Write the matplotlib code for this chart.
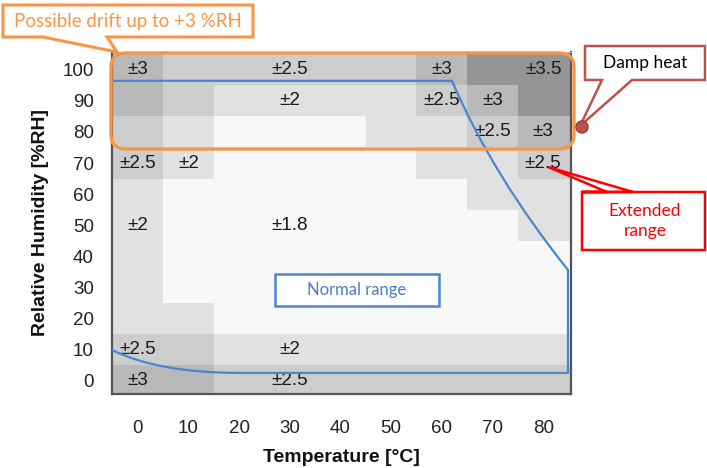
import numpy as np
import matplotlib
matplotlib.use('Agg')
from matplotlib import pyplot as plt
from matplotlib.colors import ListedColormap, BoundaryNorm
from matplotlib.patches import FancyBboxPatch, Polygon, Rectangle, Circle, PathPatch
from matplotlib.path import Path
from matplotlib.transforms import Affine2D

# temperature columns and humidity rows
temps = np.array([0, 10, 20, 30, 40, 50, 60, 70, 80])
humid = np.array([0, 10, 20, 30, 40, 50, 60, 70, 80, 90, 100])

# RH accuracy (+/- %RH), one row per humidity, from 0 %RH to 100 %RH
accuracy = np.array([
    [3.0, 3.0, 2.5, 2.5, 2.5, 2.5, 2.5, 2.5, 2.5],   # 0
    [2.5, 2.5, 2.0, 2.0, 2.0, 2.0, 2.0, 2.0, 2.0],   # 10
    [2.0, 2.0, 1.8, 1.8, 1.8, 1.8, 1.8, 1.8, 1.8],   # 20
    [2.0, 1.8, 1.8, 1.8, 1.8, 1.8, 1.8, 1.8, 1.8],   # 30
    [2.0, 1.8, 1.8, 1.8, 1.8, 1.8, 1.8, 1.8, 1.8],   # 40
    [2.0, 1.8, 1.8, 1.8, 1.8, 1.8, 1.8, 1.8, 2.0],   # 50
    [2.0, 1.8, 1.8, 1.8, 1.8, 1.8, 1.8, 2.0, 2.0],   # 60
    [2.5, 2.0, 1.8, 1.8, 1.8, 1.8, 2.0, 2.0, 2.5],   # 70
    [2.5, 2.0, 1.8, 1.8, 1.8, 2.0, 2.0, 2.5, 3.0],   # 80
    [3.0, 2.5, 2.0, 2.0, 2.0, 2.0, 2.5, 3.0, 3.5],   # 90
    [3.0, 2.5, 2.5, 2.5, 2.5, 2.5, 3.0, 3.5, 3.5],   # 100
])

# the labels that are printed in the cells
label_temp = [0, 30, 60, 80, 30, 60, 70, 70, 80, 0, 10, 80, 0, 30, 0, 30, 0, 30]
label_rh = [100, 100, 100, 100, 90, 90, 90, 80, 80, 70, 70, 70, 50, 50, 10, 10, 0, 0]
label_txt = ['±3', '±2.5', '±3', '±3.5', '±2', '±2.5', '±3', '±2.5', '±3',
             '±2.5', '±2', '±2.5', '±2', '±1.8', '±2.5', '±2', '±3', '±2.5']

# normal operating range outline (temperature, RH), with curve control points
normal_t = [-5.1, 4.0, 20.0, 84.9, 84.9, 70.0, 62.0, -5.1]
normal_rh = [9.7, 2.3, 2.3, 2.3, 35.5, 66.0, 96.5, 96.5]
normal_codes = [Path.MOVETO, Path.CURVE3, Path.CURVE3, Path.LINETO, Path.LINETO,
                Path.CURVE3, Path.CURVE3, Path.LINETO]

W, H = 707, 468
fig = plt.figure(figsize=(W / 100, H / 100), dpi=100)
ax = fig.add_axes([112 / W, 1 - 394 / H, 459 / W, 342 / H])

xlim = (-5.1, 85.5)
ylim = (-4.5, 105.8)
x_edges = np.concatenate([[xlim[0]], (temps[:-1] + temps[1:]) / 2, [xlim[1]]])
y_edges = np.concatenate([[ylim[0]], (humid[:-1] + humid[1:]) / 2, [ylim[1]]])

cmap = ListedColormap(['#f8f8f8', '#e1e1e1', '#cdcdcd', '#b9b9b9', '#959595'])
norm = BoundaryNorm([1.7, 1.9, 2.25, 2.75, 3.25, 3.75], cmap.N)
ax.pcolormesh(x_edges, y_edges, accuracy, cmap=cmap, norm=norm)

for t, r, s in zip(label_temp, label_rh, label_txt):
    ax.text(t, r, s, ha='center', va='center', fontsize=13.5,
            family='Liberation Sans', color='#1a1a1a')

normal_path = Path(np.column_stack([normal_t, normal_rh]), normal_codes)
ax.add_patch(PathPatch(normal_path, fc='none', ec='#4a86d0', lw=1.6,
                       clip_on=False, zorder=4))

ax.set_xlim(xlim)
ax.set_ylim(ylim)
ax.set_xticks(temps)
ax.set_yticks(humid)
ax.tick_params(length=0, labelsize=13.5, colors='#222222')
ax.tick_params(axis='x', pad=19)
ax.tick_params(axis='y', pad=13)
for lab in ax.get_xticklabels() + ax.get_yticklabels():
    lab.set_family('Liberation Sans')
ax.set_xlabel('Temperature [°C]', fontsize=14, fontweight='bold',
              family='Liberation Sans', labelpad=8, color='#111111')
ax.set_ylabel('Relative Humidity [%RH]', fontsize=14, fontweight='bold',
              family='Liberation Sans', labelpad=10, color='#111111')
for side in ['left', 'bottom', 'right']:
    ax.spines[side].set_color('#555555')
    ax.spines[side].set_linewidth(1.6)
ax.spines['top'].set_color('#bbbbbb')
ax.spines['top'].set_linewidth(0.8)

# pixel coordinates (origin top left) for the callouts
pix = Affine2D().scale(1, -1).translate(0, H).scale(1 / W, 1 / H) + fig.transFigure
orange = '#f79646'
dred = '#c0504d'

fig.add_artist(FancyBboxPatch((111, 53), 463, 96, boxstyle='round,pad=0,rounding_size=15',
                              fc='none', ec=orange, lw=2.4, transform=pix, zorder=5))

fig.add_artist(Polygon([(3, 5), (253, 5), (253, 37), (107, 37), (117, 52), (43, 37), (3, 37)],
                       closed=True, fc='white', ec=orange, lw=2.2, transform=pix,
                       zorder=6, joinstyle='miter'))
fig.text(128, 21, 'Possible drift up to +3 %RH', transform=pix, ha='center',
         va='center', color=orange, fontsize=13.5, family='Lato', zorder=7)

fig.add_artist(Rectangle((275, 274), 164, 32, fc='white', ec='#4a86d0', lw=1.8,
                         transform=pix, zorder=6))
fig.text(357, 290, 'Normal range', transform=pix, ha='center', va='center',
         color='#4a7ec4', fontsize=12, family='Lato', zorder=7)

fig.add_artist(Polygon([(585, 46), (705, 46), (705, 80), (632, 80), (580, 126),
                        (602, 80), (585, 80)],
                       closed=True, fc='white', ec=dred, lw=1.8, transform=pix,
                       zorder=6, joinstyle='miter'))
fig.add_artist(Circle((582, 127), 6, fc=dred, ec='#9c3b38', lw=1, transform=pix, zorder=7))
fig.text(645, 63, 'Damp heat', transform=pix, ha='center', va='center',
         color='black', fontsize=12.5, family='Lato', zorder=7)

fig.add_artist(Polygon([(582, 192), (705, 192), (705, 250), (582, 250), (582, 192),
                        (607, 192), (548, 167), (633, 192)],
                       closed=True, fc='white', ec='#ff0000', lw=1.8, transform=pix,
                       zorder=6, joinstyle='miter'))
fig.text(645, 221, 'Extended\nrange', transform=pix, ha='center', va='center',
         color='#ff0000', fontsize=12.5, family='Lato', linespacing=1.3, zorder=7)

fig.savefig('out.png', dpi=100)
